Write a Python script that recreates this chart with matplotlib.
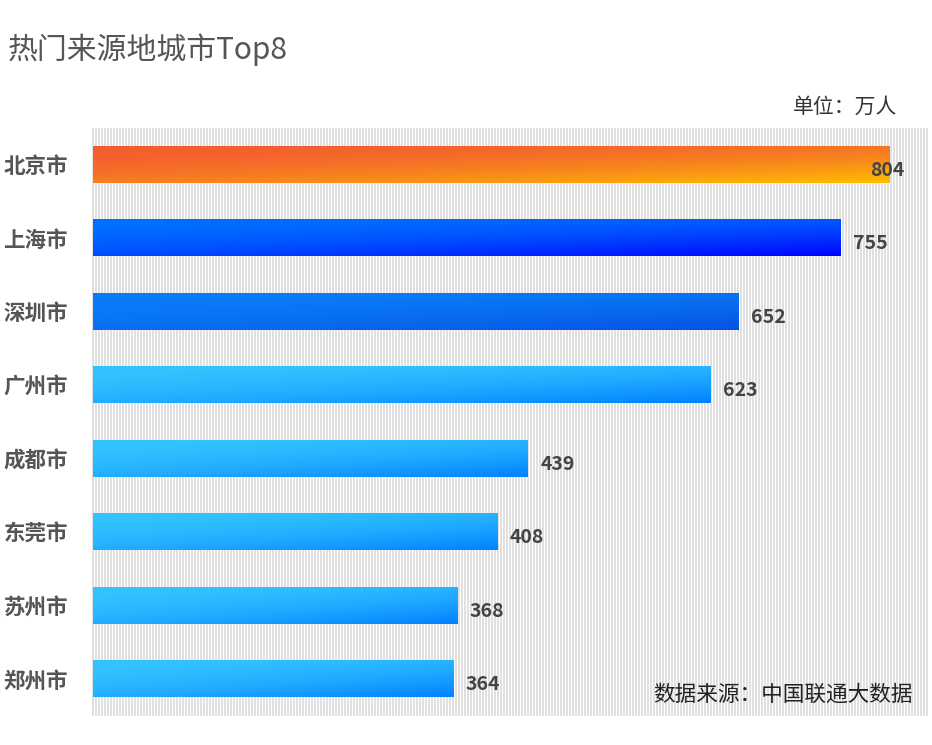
import numpy as np
import matplotlib
matplotlib.use("Agg")
import matplotlib.pyplot as plt
from matplotlib.colors import to_rgb

plt.rcParams['font.family'] = ['Noto Sans CJK SC', 'DejaVu Sans']

# data
cities = ['北京市', '上海市', '深圳市', '广州市', '成都市', '东莞市', '苏州市', '郑州市']
visitors = [804, 755, 652, 623, 439, 408, 368, 364]
# gradient colours per bar: (top-left, bottom-right)
bar_colors = [('#F35E30', '#FFBE00'),
              ('#0070FF', '#0000FF'),
              ('#0A7CFA', '#0552E0'),
              ('#33C4FF', '#0080FF'),
              ('#33C4FF', '#0080FF'),
              ('#33C4FF', '#0080FF'),
              ('#33C4FF', '#0080FF'),
              ('#33C4FF', '#0080FF')]

W, H, DPI = 932, 745, 100
fig = plt.figure(figsize=(W / DPI, H / DPI), dpi=DPI)
fig.patch.set_facecolor('white')

# plot area in pixels
L, R, T, B = 93, 928, 128, 716
ax = fig.add_axes([L / W, (H - B) / H, (R - L) / W, (B - T) / H])
ax.set_facecolor('none')

# striped background (pixel exact)
bw, bh = R - L + 1, B - T
stripe = np.ones((bh, bw, 3))
cols = np.arange(bw) % 3 != 2
stripe[:, cols, :] = 0.88
fig.figimage(stripe, xo=L - 1, yo=H - B, zorder=-1)


def grad_img(c0, c1, n=60, m=200):
    yy, xx = np.mgrid[0:1:n * 1j, 0:1:m * 1j]
    t = np.clip(0.55 * yy + 0.45 * xx, 0, 1) ** 1.8
    a, b = np.array(to_rgb(c0)), np.array(to_rgb(c1))
    return a[None, None, :] * (1 - t[..., None]) + b[None, None, :] * t[..., None]


bh_frac = 0.49
for i, (v, (c0, c1)) in enumerate(zip(visitors, bar_colors)):
    ax.imshow(grad_img(c0, c1), extent=(0, v, i + bh_frac / 2, i - bh_frac / 2),
              origin='upper', aspect='auto', interpolation='bilinear', zorder=2)

xmax = 843
ax.set_xlim(0, xmax)
ax.set_ylim(len(cities) - 0.5, -0.5)
ax.set_yticks(range(len(cities)))
ax.set_yticklabels(cities, fontsize=15.5, color='#555555', fontweight='bold')
ax.tick_params(axis='y', length=0, pad=18)
ax.set_xticks([])
for s in ax.spines.values():
    s.set_visible(False)

# value labels
for i, v in enumerate(visitors):
    if v + 60 > xmax:
        ax.annotate(str(v), xy=(1, i), xycoords=('axes fraction', 'data'),
                    xytext=(-17, -4), textcoords='offset points',
                    ha='right', va='center', fontsize=14, color='#444444',
                    fontweight='bold', zorder=3)
    else:
        ax.annotate(str(v), xy=(v, i), xytext=(9, -4), textcoords='offset points',
                    ha='left', va='center', fontsize=14, color='#444444',
                    fontweight='bold', zorder=3)

fig.text(8 / W, 1 - 50 / H, '热门来源地城市Top8', fontsize=21.5, color='#555555',
         ha='left', va='center')
fig.text(897 / W, 1 - 107 / H, '单位：万人', fontsize=15, color='#333333',
         ha='right', va='center')
fig.text(913 / W, 1 - 695 / H, '数据来源：中国联通大数据', fontsize=15.6, color='#222222',
         ha='right', va='center')

fig.savefig('out.png', dpi=DPI)
